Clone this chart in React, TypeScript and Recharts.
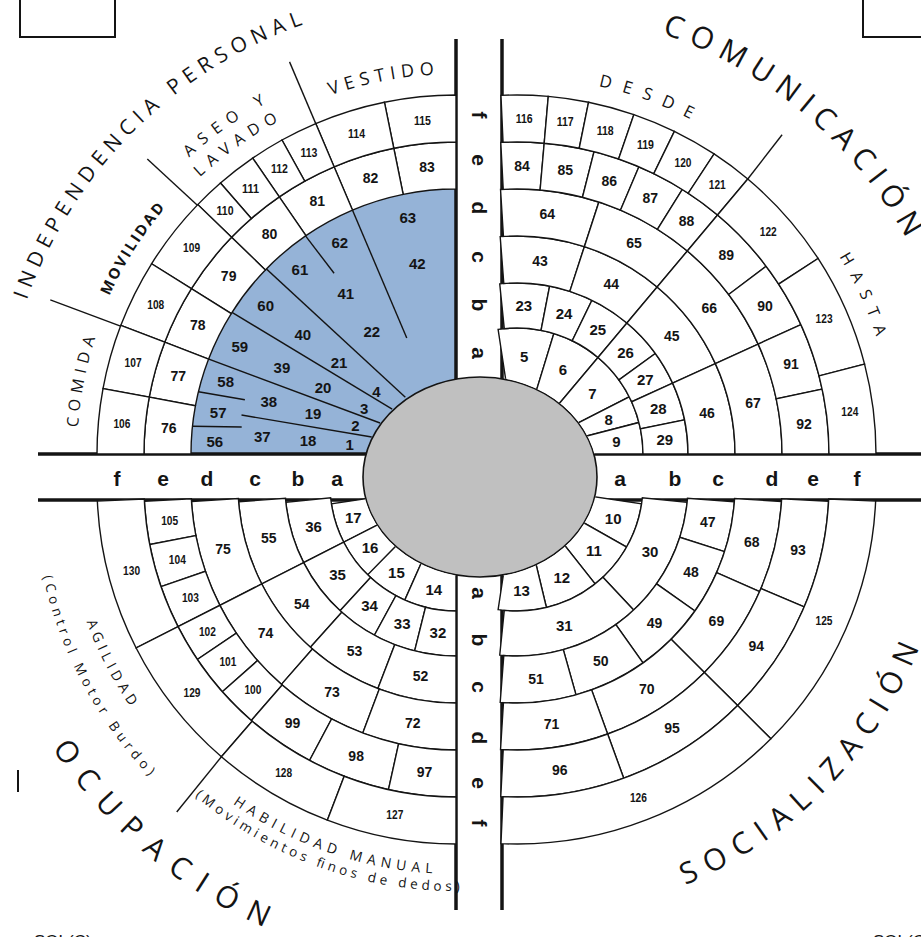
import React from "react";
import { PieChart, Pie, Cell, Customized } from "recharts";

const W = 921;
const H = 937;
const RAD = Math.PI / 180;

const BLUE = "#95b3d7";
const GREY = "#c0c0c0";
const INK = "#141414";
const NUM_FONT = "'Liberation Sans', Arial, sans-serif";
const TITLE_FONT = "'Open Sans', 'DejaVu Sans', sans-serif";

// rings a..f, radii measured from each quadrant's own centre
const ringLetters = ["a", "b", "c", "d", "e", "f"];
const ringInner = [60, 126, 171, 218, 265, 312];
const ringOuter = [126, 171, 218, 265, 312, 359];

// Independencia personal (top left), inner ring first, cells listed from 90deg to 180deg
const tlCells = [
  ["", "4", "3", "2", "1"],
  ["", "22", "21", "20", "19", "18"],
  ["42", "41", "40", "39", "38", "37"],
  ["63", "62", "61", "60", "59", "58", "57", "56"],
  ["83", "82", "81", "80", "79", "78", "77", "76"],
  ["115", "114", "113", "112", "111", "110", "109", "108", "107", "106"],
];
const tlEdges = [
  [90, 136, 148, 159, 169.5, 180],
  [90, 113, 136, 148, 159, 169.5, 180],
  [90, 113, 136, 148, 159, 169.5, 180],
  [90, 113, 124.5, 136, 148, 159, 166, 174, 180],
  [90, 101.5, 113, 124.5, 136, 148, 159, 169.5, 180],
  [90, 101.5, 113, 119, 124.5, 131, 136, 148, 159, 169.5, 180],
];

// Comunicación (top right), cells from 90deg down to 0deg
const trCells = [
  ["5", "6", "7", "8", "9"],
  ["23", "24", "25", "26", "27", "28", "29"],
  ["43", "44", "45", "46"],
  ["64", "65", "66", "67"],
  ["84", "85", "86", "87", "88", "89", "90", "91", "92"],
  ["116", "117", "118", "119", "120", "121", "122", "123", "124"],
];
const trEdges = [
  [90, 73, 50, 27, 14.5, 0],
  [90, 79, 64, 50, 36, 24.5, 11.5, 0],
  [90, 72, 50, 24.5, 0],
  [90, 72, 50, 24.5, 0],
  [90, 85, 75.7, 67, 58, 50, 37, 24.5, 12, 0],
  [90, 85, 78.5, 71, 64, 56.7, 50, 33, 14.5, 0],
];

// Socialización (bottom right), cells from 0deg down to -90deg
const brCells = [
  ["10", "11", "12", "13"],
  ["30", "31"],
  ["47", "48", "49", "50", "51"],
  ["68", "69", "70", "71"],
  ["93", "94", "95", "96"],
  ["125", "126"],
];
const brEdges = [
  [0, -29.5, -51.7, -76.5, -90],
  [0, -47, -90],
  [0, -17.8, -35.3, -54.7, -74.3, -90],
  [0, -23.7, -45, -70, -90],
  [0, -23, -45, -70, -90],
  [0, -45, -90],
];

// Ocupación (bottom left), cells from 180deg to 270deg
const blCells = [
  ["17", "16", "15", "14"],
  ["36", "35", "34", "33", "32"],
  ["55", "54", "53", "52"],
  ["75", "74", "73", "72"],
  ["105", "104", "103", "102", "101", "100", "99", "98", "97"],
  ["130", "129", "128", "127"],
];
const blEdges = [
  [180, 207, 225.5, 246, 270],
  [180, 207, 227.3, 241.5, 256, 270],
  [180, 207, 228.1, 249, 270],
  [180, 207, 228.8, 249.4, 270],
  [180, 191, 199, 207, 214, 221.5, 229, 242, 257.5, 270],
  [180, 207, 229.2, 249, 270],
];

// divider strokes across the shaded sector / past the rings: [angle, r, angle, r]
const tlDividers = [
  [113, 126, 113, 426],
  [124, 218, 124.6, 265],
  [131.8, 76, 136.3, 427],
  [144.9, 78, 147.7, 265],
  [157.8, 82, 159.2, 434],
  [165.6, 218, 166.4, 265],
  [168.6, 86, 169.7, 218],
  [172.8, 216, 174, 265],
];
const trDividers = [[50, 359, 50.3, 415]];
const blDividers = [[229.2, 359, 229.5, 430]];

const captionText = [
  "INDEPENDENCIA PERSONAL",
  "COMUNICACIÓN",
  "SOCIALIZACIÓN",
  "OCUPACIÓN",
  "VESTIDO",
  "ASEO Y",
  "LAVADO",
  "MOVILIDAD",
  "COMIDA",
  "DESDE",
  "HASTA",
  "AGILIDAD",
  "(Control Motor Burdo)",
  "HABILIDAD MANUAL",
  "(Movimientos finos de dedos)",
];

const TL = [456, 454];
const TR = [517, 454];
const BR = [517, 485];
const BL = [456, 485];

const captionArcs = [
  { c: TL, r: 456, a: [160.3, 109.6], s: 21, w: 400 },
  { c: TR, r: 445, a: [71, 29], s: 30, w: 400 },
  { c: BR, r: 434, a: [-67.2, -22], s: 30, w: 400 },
  { c: BL, r: 482, a: [213.1, 246.6], s: 30, w: 400 },
  { c: TL, r: 380, a: [109.3, 93.3], s: 18, w: 400 },
  { c: TL, r: 399, a: [132, 118.5], s: 16, w: 400 },
  { c: TL, r: 377, a: [132.8, 118.1], s: 16, w: 400 },
  { c: TL, r: 381, a: [155.5, 139.8], s: 15, w: 700 },
  { c: TL, r: 379, a: [176, 162.2], s: 16, w: 400 },
  { c: TR, r: 377, a: [77.5, 62.6], s: 17, w: 400 },
  { c: TR, r: 378, a: [31.5, 18.1], s: 16, w: 400 },
  { c: BL, r: 394, a: [200.3, 214.2], s: 14, w: 400 },
  { c: BL, r: 423, a: [192.5, 223.5], s: 13.5, w: 400 },
  { c: BL, r: 389, a: [235, 266.5], s: 14, w: 400 },
  { c: BL, r: 406, a: [230, 270.5], s: 13.5, w: 400 },
];

const bandLeftX = [337, 298, 255, 207, 163, 117];
const bandRightX = [620, 675, 718, 772, 813, 857];
const bandTopY = [353, 305, 257, 208, 160, 115];
const bandBottomY = [593, 640, 687, 738, 783, 823];

const hub = { cx: 480, cy: 477, rx: 117, ry: 100 };
const BAND = 15;

const quads = [
  { key: "tl", cx: TL[0], cy: TL[1], cells: tlCells, edges: tlEdges, shiftFirst: 0, shiftLast: 0, shaded: 4 },
  { key: "tr", cx: TR[0], cy: TR[1], cells: trCells, edges: trEdges, shiftFirst: 1, shiftLast: 0, shaded: 0 },
  { key: "br", cx: BR[0], cy: BR[1], cells: brCells, edges: brEdges, shiftFirst: -1, shiftLast: -1, shaded: 0 },
  { key: "bl", cx: BL[0], cy: BL[1], cells: blCells, edges: blEdges, shiftFirst: 1, shiftLast: 0, shaded: 0 },
];

const pt = (cx: number, cy: number, r: number, a: number) => [
  cx + r * Math.cos(a * RAD),
  cy - r * Math.sin(a * RAD),
];

function hubDist(cx: number, cy: number, angle: number) {
  const ux = Math.cos(angle * RAD);
  const uy = -Math.sin(angle * RAD);
  const dx = cx - hub.cx;
  const dy = cy - hub.cy;
  const rx2 = hub.rx * hub.rx;
  const ry2 = hub.ry * hub.ry;
  const a = (ux * ux) / rx2 + (uy * uy) / ry2;
  const b = 2 * ((dx * ux) / rx2 + (dy * uy) / ry2);
  const c = (dx * dx) / rx2 + (dy * dy) / ry2 - 1;
  return (-b + Math.sqrt(b * b - 4 * a * c)) / (2 * a);
}

function arcD(cx: number, cy: number, r: number, a1: number, a2: number) {
  const [x1, y1] = pt(cx, cy, r, a1);
  const [x2, y2] = pt(cx, cy, r, a2);
  const sweep = a2 < a1 ? 1 : 0;
  return `M${x1},${y1} A${r},${r} 0 0 ${sweep} ${x2},${y2}`;
}

function ellipseD(cx: number, cy: number, rx: number, ry: number) {
  return `M${cx - rx},${cy} a${rx},${ry} 0 1,0 ${2 * rx},0 a${rx},${ry} 0 1,0 ${-2 * rx},0 Z`;
}

function ringData(q: any, ri: number) {
  const e = q.edges[ri].slice();
  const rm = ri === 0 ? 100 : (ringInner[ri] + ringOuter[ri]) / 2;
  const d = Math.asin(BAND / rm) / RAD;
  e[0] += q.shiftFirst * d;
  e[e.length - 1] += q.shiftLast * d;
  const data = q.cells[ri].map((name: string, i: number) => ({
    name,
    value: Math.abs(e[i + 1] - e[i]),
  }));
  return { data, start: e[0], end: e[e.length - 1] };
}

const makeLabel = (q: any, ri: number) => (p: any) => {
  const name = p?.payload?.name ?? p?.name;
  if (!name) return null;
  const mid = p.midAngle;
  const inner = ri === 0 ? hubDist(q.cx, q.cy, mid) : ringInner[ri];
  const r = (inner + ringOuter[ri]) / 2;
  const [x, y] = pt(q.cx, q.cy, r, mid);
  const three = name.length === 3;
  const size = three ? 13 : ri < q.shaded ? 15 : ri < 2 ? 15 : 14;
  const squeeze = three ? { textLength: 17, lengthAdjust: "spacingAndGlyphs" } : {};
  return (
    <text
      x={x}
      y={y}
      textAnchor="middle"
      dominantBaseline="central"
      fontFamily={NUM_FONT}
      fontWeight={700}
      fontSize={size}
      fill={INK}
      {...squeeze}
    >
      {name}
    </text>
  );
};

function Decor() {
  const [tx, ty] = TL;
  const [bx1, by1] = pt(tx, ty, 265, 90);
  const [bx2, by2] = pt(tx, ty, 265, 180);
  const lines = [
    ...tlDividers.map((d) => ({ c: TL, d })),
    ...trDividers.map((d) => ({ c: TR, d })),
    ...blDividers.map((d) => ({ c: BL, d })),
  ];
  const bandTxt = { fontFamily: NUM_FONT, fontWeight: 700, fontSize: 21, fill: INK };
  // vertical band letters run down a straight guide so the glyphs turn a quarter clockwise
  const guideX = 472;
  return (
    <g>
      <defs>
        <clipPath id="outsideHub">
          <path
            clipRule="evenodd"
            d={`M0,0H${W}V${H}H0Z ${ellipseD(hub.cx, hub.cy, hub.rx + 0.6, hub.ry + 0.6)}`}
          />
        </clipPath>
        {captionArcs.map((c, i) => (
          <path key={i} id={`cap${i}`} d={arcD(c.c[0], c.c[1], c.r, c.a[0], c.a[1])} fill="none" />
        ))}
        <path id="bandGuide" d={`M${guideX},0 L${guideX},${H}`} fill="none" />
      </defs>

      <path d={`M${tx},${ty} L${bx1},${by1} A265,265 0 0 0 ${bx2},${by2} Z`} fill={BLUE} />

      {lines.map(({ c, d }, i) => {
        const [x1, y1] = pt(c[0], c[1], d[1], d[0]);
        const [x2, y2] = pt(c[0], c[1], d[3], d[2]);
        return <line key={i} x1={x1} y1={y1} x2={x2} y2={y2} stroke={INK} strokeWidth={1.4} />;
      })}

      {/* item-level bands */}
      <line x1={38} y1={454} x2={W} y2={454} stroke={INK} strokeWidth={3.5} />
      <line x1={38} y1={500} x2={W} y2={500} stroke={INK} strokeWidth={3.5} />
      <line x1={456} y1={39} x2={456} y2={910} stroke={INK} strokeWidth={3.5} />
      <line x1={502} y1={39} x2={502} y2={910} stroke={INK} strokeWidth={3.5} />

      {ringLetters.map((l, i) => (
        <g key={l}>
          <text x={bandLeftX[i]} y={478} dominantBaseline="central" textAnchor="middle" {...bandTxt}>{l}</text>
          <text x={bandRightX[i]} y={478} dominantBaseline="central" textAnchor="middle" {...bandTxt}>{l}</text>
          <text textAnchor="middle" {...bandTxt}>
            <textPath href="#bandGuide" startOffset={bandTopY[i]}>{l}</textPath>
          </text>
          <text textAnchor="middle" {...bandTxt}>
            <textPath href="#bandGuide" startOffset={bandBottomY[i]}>{l}</textPath>
          </text>
        </g>
      ))}

      <ellipse cx={hub.cx} cy={hub.cy} rx={hub.rx} ry={hub.ry} fill={GREY} stroke={INK} strokeWidth={1.6} />

      {captionArcs.map((c, i) => {
        const len = Math.abs(c.a[1] - c.a[0]) * RAD * c.r;
        return (
          <text key={i} fontFamily={TITLE_FONT} fontSize={c.s} fontWeight={c.w} fill={INK}>
            <textPath href={`#cap${i}`} textLength={len} lengthAdjust="spacing">
              {captionText[i]}
            </textPath>
          </text>
        );
      })}

      <rect x={20} y={-3} width={95} height={40} fill="none" stroke={INK} strokeWidth={2} />
      <rect x={863} y={-3} width={70} height={40} fill="none" stroke={INK} strokeWidth={2} />
      <line x1={18} y1={770} x2={18} y2={792} stroke={INK} strokeWidth={2} />
      <text x={34} y={947} fontFamily={NUM_FONT} fontSize={17} fill={INK}>SOL(C)</text>
      <text x={873} y={947} fontFamily={NUM_FONT} fontSize={17} fill={INK}>SOL(C)</text>
    </g>
  );
}

export default function App() {
  return (
    <div style={{ position: "absolute", left: 0, top: 0, width: W, height: H, background: "#fff" }}>
      <PieChart width={W} height={H} margin={{ top: 0, right: 0, bottom: 0, left: 0 }}>
        <Customized component={Decor} />
        {quads.map((q) =>
          q.cells.map((_, ri) => {
            const { data, start, end } = ringData(q, ri);
            const shaded = ri < q.shaded;
            return (
              <Pie
                key={`${q.key}-${ri}`}
                data={data}
                dataKey="value"
                nameKey="name"
                cx={q.cx}
                cy={q.cy}
                innerRadius={ringInner[ri]}
                outerRadius={ringOuter[ri]}
                startAngle={start}
                endAngle={end}
                isAnimationActive={false}
                labelLine={false}
                label={makeLabel(q, ri)}
              >
                {data.map((_: any, i: number) => (
                  <Cell
                    key={i}
                    fill={shaded ? "transparent" : "#fff"}
                    stroke={shaded ? "none" : INK}
                    strokeWidth={1.4}
                    clipPath={ri === 0 && !shaded ? "url(#outsideHub)" : undefined}
                  />
                ))}
              </Pie>
            );
          })
        )}
      </PieChart>
    </div>
  );
}
